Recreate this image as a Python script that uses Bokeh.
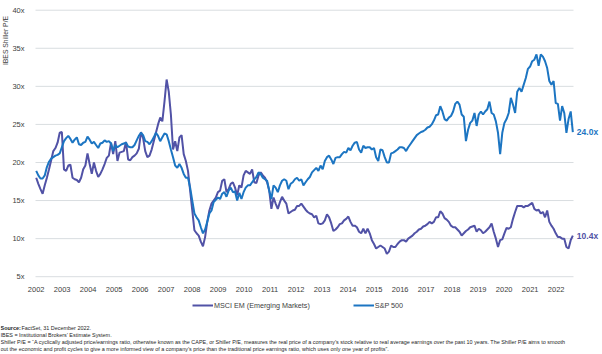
from bokeh.plotting import figure
from bokeh.models import Range1d, FixedTicker, Label, Legend, LegendItem
from bokeh.embed import file_html
from bokeh.resources import INLINE

# ---------------- data (monthly, Jan 2002 onwards) ----------------
years = list(range(2002, 2023))
year_labels = [str(y) for y in years]
y_ticks = [5, 10, 15, 20, 25, 30, 35, 40]
y_tick_labels = [f"{v}x" for v in y_ticks]

msci_em = [
    18.0, 17.2, 16.5, 15.9, 17.0, 18.0, 19.1, 20.3, 21.5, 21.9,
    22.6, 23.9, 24.0, 19.1, 18.9, 19.6, 19.7, 18.0, 17.8, 17.7,
    17.4, 18.0, 19.1, 19.6, 21.2, 19.8, 18.5, 20.0, 18.9, 18.1,
    18.5, 19.1, 19.8, 20.6, 20.9, 22.6, 21.1, 22.8, 20.2, 21.3,
    21.4, 21.5, 22.7, 20.4, 20.3, 20.7, 20.9, 21.2, 21.8, 24.0,
    23.2, 21.5, 20.7, 20.9, 21.7, 22.8, 23.9, 25.0, 25.9, 25.4,
    28.0, 30.9, 29.3, 26.3, 21.7, 22.8, 21.5, 23.3, 23.6, 21.1,
    20.2, 18.9, 16.3, 13.7, 11.1, 10.7, 10.4, 9.6, 9.0, 10.2,
    12.2, 13.7, 14.6, 15.0, 15.4, 16.1, 16.3, 17.6, 17.8, 16.1,
    16.5, 17.2, 17.4, 16.7, 15.7, 17.0, 16.7, 18.3, 18.9, 18.7,
    18.5, 19.1, 17.4, 17.3, 18.3, 18.7, 18.3, 18.0, 17.4, 16.3,
    13.9, 15.4, 14.6, 13.9, 14.8, 15.5, 15.0, 14.6, 13.3, 13.5,
    13.7, 13.8, 14.3, 14.3, 14.6, 14.2, 13.8, 13.5, 13.3, 13.2,
    12.8, 13.0, 12.0, 11.9, 12.0, 12.4, 13.2, 12.8, 12.0, 11.0,
    11.2, 11.5, 11.9, 12.0, 12.4, 12.6, 12.9, 12.2, 11.7, 11.7,
    11.5, 10.9, 10.7, 11.3, 10.7, 11.3, 10.7, 9.8, 9.3, 8.7,
    8.9, 9.1, 8.9, 8.7, 8.0, 8.3, 9.1, 8.9, 8.9, 9.3,
    9.6, 9.8, 9.8, 9.6, 10.0, 10.2, 10.4, 10.7, 10.9, 11.2,
    11.3, 11.6, 11.7, 11.9, 12.2, 12.0, 12.2, 12.8, 12.8, 13.6,
    13.3, 12.7, 12.5, 12.2, 11.7, 11.5, 11.5, 11.2, 10.9, 10.4,
    10.7, 11.0, 11.2, 11.5, 11.6, 11.7, 10.9, 11.3, 11.1, 10.7,
    10.9, 11.2, 11.5, 12.0, 10.9, 10.0, 8.9, 9.8, 9.9, 10.7,
    11.4, 11.3, 11.5, 12.6, 13.5, 14.3, 14.3, 14.3, 14.1, 14.3,
    14.3, 14.5, 14.7, 13.9, 13.7, 13.8, 13.3, 13.5, 12.8, 13.7,
    12.2, 11.7, 11.3, 10.7, 10.2, 10.2, 10.0, 10.0, 8.9, 8.7,
    9.8, 10.4,
]

sp500 = [
    18.9, 18.3, 17.9, 17.9, 18.3, 19.4, 20.1, 20.5, 20.7, 20.9,
    21.0, 21.2, 22.0, 22.8, 23.2, 23.5, 23.1, 22.6, 23.0, 23.3,
    22.4, 22.3, 22.6, 22.7, 23.4, 23.0, 22.5, 22.7, 22.3, 21.9,
    22.5, 22.6, 22.9, 22.7, 22.8, 22.5, 21.5, 22.3, 22.0, 22.2,
    22.4, 22.5, 22.6, 22.1, 22.0, 22.0, 22.3, 22.9, 23.5, 23.9,
    23.6, 22.8, 22.7, 22.4, 22.8, 23.3, 23.9, 23.5, 22.8, 23.3,
    23.8, 23.7, 22.8, 21.7, 20.7, 19.6, 19.3, 19.8, 19.3, 18.5,
    18.0, 18.0, 16.7, 15.0, 13.3, 12.8, 12.4, 11.5, 10.7, 11.2,
    12.2, 13.3, 13.7, 14.8, 15.1, 15.4, 15.2, 15.9, 16.1, 15.5,
    16.3, 16.7, 16.1, 16.2, 15.0, 16.0, 15.2, 16.1, 16.7, 17.0,
    17.0, 17.4, 17.8, 18.1, 18.7, 18.5, 18.0, 17.8, 17.6, 16.3,
    15.2, 17.0, 16.7, 16.1, 17.0, 17.6, 17.8, 17.6, 16.5, 17.2,
    17.4, 17.8, 18.0, 17.6, 17.8, 17.0, 17.4, 17.8, 18.1, 18.7,
    19.0, 19.3, 18.9, 19.6, 19.1, 20.2, 20.7, 20.9, 20.4, 19.8,
    20.6, 20.7, 20.7, 21.1, 21.4, 21.3, 21.9, 21.6, 22.2, 22.6,
    22.7, 21.7, 21.3, 22.2, 21.9, 22.0, 22.0, 21.7, 21.9, 20.7,
    20.2, 21.7, 21.6, 20.7, 20.0, 20.0, 21.2, 21.3, 21.5, 21.7,
    22.0, 22.0, 21.9, 21.5, 22.0, 22.4, 22.8, 23.2, 23.6, 23.8,
    24.0, 24.1, 24.3, 24.6, 24.7, 25.0, 25.5, 26.2, 26.3, 27.4,
    26.7, 25.7, 25.5, 25.9, 26.1, 26.7, 27.7, 28.0, 27.6, 26.3,
    26.0, 22.8, 24.3, 25.2, 25.5, 26.5, 24.8, 26.3, 26.7, 26.3,
    26.7, 27.0, 28.0, 26.5, 26.3, 25.4, 23.9, 21.1, 23.9, 25.2,
    25.7, 26.5, 28.5, 27.6, 26.5, 29.3, 29.8, 29.3, 30.2, 31.1,
    32.3, 32.6, 33.3, 33.5, 34.2, 32.7, 34.2, 33.9, 33.3, 32.4,
    30.7, 30.2, 30.7, 27.8, 27.7, 25.5, 27.4, 26.5, 23.9, 25.7,
    26.7, 24.0,
]

series_names = ["MSCI EM (Emerging Markets)", "S&P 500"]
end_labels = ["10.4x", "24.0x"]
y_title = "IBES Shiller P/E"
source_bold = "Source:"
source_rest = "FactSet, 31 December 2022."
note_lines = [
    "IBES = Institutional Brokers\u2019 Estimate System.",
    "Shiller P/E = \u201cA cyclically adjusted price/earnings ratio, otherwise known as the CAPE, or Shiller P/E, measures the real price of a company\u2019s stock relative to real average earnings over the past 10 years. The Shiller P/E aims to smooth",
    "out the economic and profit cycles to give a more informed view of a company\u2019s price than the traditional price earnings ratio, which uses only one year of profits\u201d.",
]

# ---------------- styling / layout ----------------
FONT = "Liberation Sans"
PURPLE = "#5152A6"
BLUE = "#1C75C2"
GRID = "#D9DDE0"
TXT = "#404040"
FN_COLOR = "#262626"
MPT = 12.16          # data points per year-label step
PX_PER_PT = 2.138    # horizontal pixels per monthly point
PX_PER_UNIT = 7.614  # vertical pixels per 1x of P/E
W, H = 602, 354
X0_PX = 35.7         # pixel of first point
Y5_PX = 276.2        # pixel row of the 5x line

def px_to_x(px):
    return 2002 + (px - X0_PX) / PX_PER_PT / MPT

def px_to_y(py):
    return 5 + (Y5_PX - py) / PX_PER_UNIT

month_index = list(range(len(sp500)))
x_pos = [2002 + m / MPT for m in month_index]

p = figure(width=W, height=H, output_backend="svg", toolbar_location=None,
           x_range=Range1d(px_to_x(0), px_to_x(W)),
           y_range=Range1d(px_to_y(H), px_to_y(0)),
           min_border=0, min_border_left=0, min_border_right=0,
           min_border_top=0, min_border_bottom=0)
p.outline_line_color = None
p.background_fill_color = "white"
p.border_fill_color = "white"

# axes drawn at fixed positions inside the canvas
p.xaxis.fixed_location = 5
p.yaxis.fixed_location = px_to_x(35)
p.xaxis.ticker = FixedTicker(ticks=years)
p.xaxis.major_label_overrides = {y: l for y, l in zip(years, year_labels)}
p.yaxis.ticker = FixedTicker(ticks=y_ticks)
p.yaxis.major_label_overrides = {v: l for v, l in zip(y_ticks, y_tick_labels)}
for ax in (p.xaxis, p.yaxis):
    ax.axis_line_color = None
    ax.major_tick_line_color = None
    ax.minor_tick_line_color = None
    ax.major_label_text_font = FONT
    ax.major_label_text_font_size = "7.5px"
    ax.major_label_text_color = TXT
p.xaxis.major_label_standoff = 4
p.yaxis.major_label_standoff = 5

# horizontal grid lines, spanning the data width only
p.xgrid.visible = False
p.ygrid.visible = False
gx0, gx1 = px_to_x(35), px_to_x(573)
p.segment(x0=[gx0] * len(y_ticks), x1=[gx1] * len(y_ticks),
          y0=y_ticks, y1=y_ticks, line_color=GRID, line_width=1)

r_em = p.line(x_pos, msci_em, line_color=PURPLE, line_width=2)
r_sp = p.line(x_pos, sp500, line_color=BLUE, line_width=2)

# legend
legend = Legend(items=[LegendItem(label=series_names[0], renderers=[r_em]),
                       LegendItem(label=series_names[1], renderers=[r_sp])],
                orientation="horizontal", location=(192, H - 310),
                glyph_width=21, glyph_height=10, label_height=10, label_standoff=1,
                spacing=43, padding=0, margin=0,
                border_line_color=None, background_fill_alpha=0,
                label_text_font=FONT, label_text_font_size="7.2px", label_text_color=TXT)
p.add_layout(legend)

# end-value labels
p.add_layout(Label(x=x_pos[-1], y=msci_em[-1], x_offset=4, text=end_labels[0],
                   text_font=FONT, text_font_size="8.5px", text_font_style="bold",
                   text_color=PURPLE, text_baseline="middle"))
p.add_layout(Label(x=x_pos[-1], y=sp500[-1], x_offset=4, text=end_labels[1],
                   text_font=FONT, text_font_size="8.5px", text_font_style="bold",
                   text_color=BLUE, text_baseline="middle"))

# y-axis title (rotated, near the top)
p.add_layout(Label(x=5, y=H - 40, x_units="screen", y_units="screen", angle=90,
                   angle_units="deg", text=y_title, text_font=FONT,
                   text_font_size="6.8px", text_color=TXT,
                   text_align="center", text_baseline="middle"))

# footnotes
FN = "5.45px"
p.add_layout(Label(x=0, y=H - 327, x_units="screen", y_units="screen", text=source_bold,
                   text_font=FONT, text_font_size=FN, text_font_style="bold",
                   text_color=FN_COLOR, text_baseline="middle"))
p.add_layout(Label(x=21, y=H - 327, x_units="screen", y_units="screen", text=source_rest,
                   text_font=FONT, text_font_size=FN, text_color=FN_COLOR,
                   text_baseline="middle"))
for i, line in enumerate(note_lines):
    p.add_layout(Label(x=0, y=H - 334 - 7 * i, x_units="screen", y_units="screen", text=line,
                       text_font=FONT, text_font_size=FN, text_color=FN_COLOR,
                       text_baseline="middle"))

open("out.html", "w").write(file_html(p, INLINE))
